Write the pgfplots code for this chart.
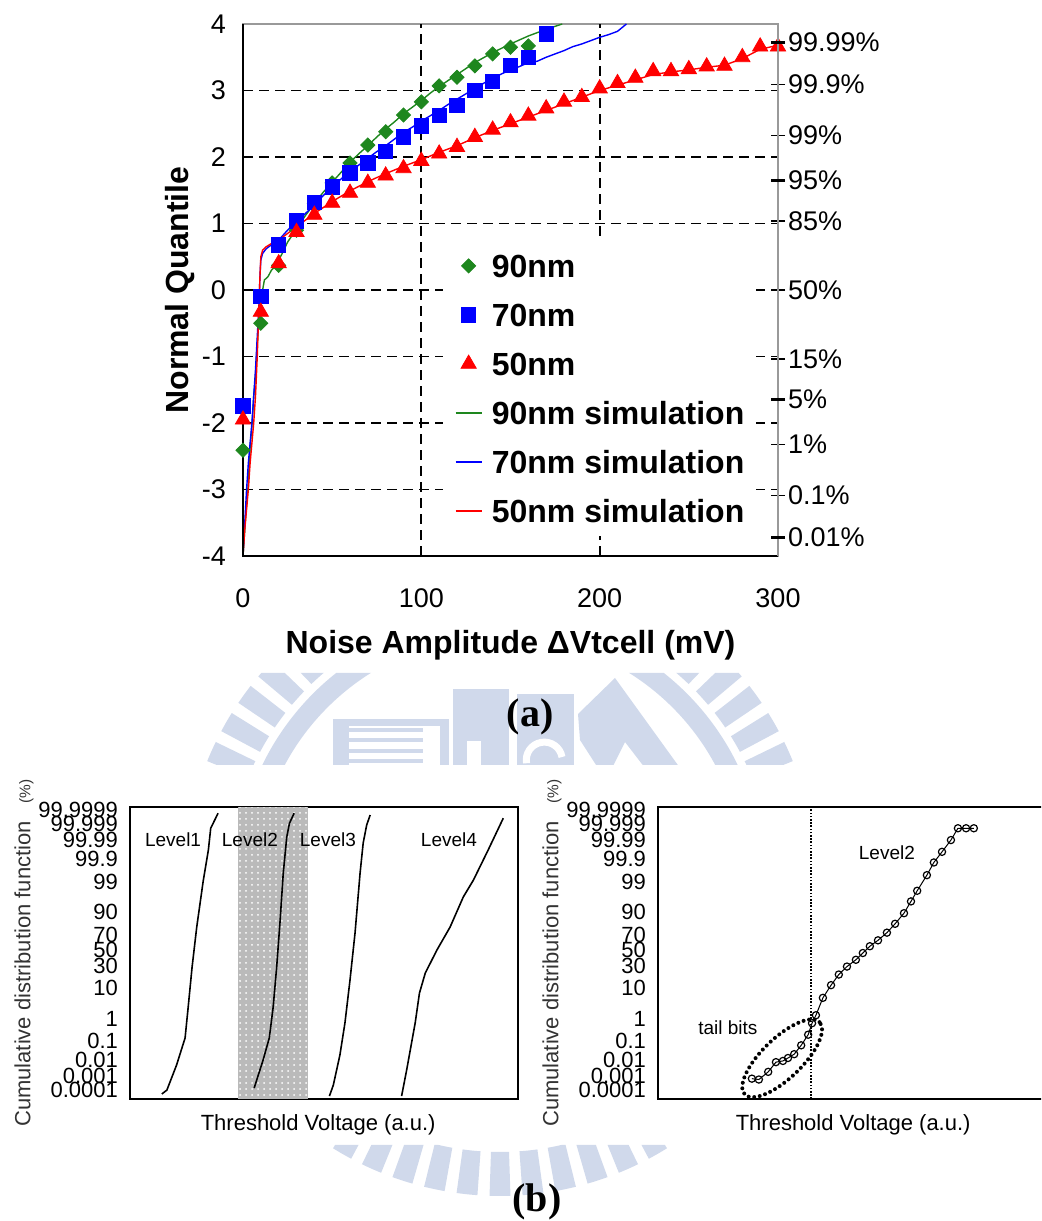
\documentclass[border=0pt]{standalone}
\usepackage{fontspec}
\setmainfont{Liberation Sans}
\newfontfamily\capfont{Liberation Serif}
\usepackage{pgfplots}
\usepackage{pgfplotstable}
\pgfplotsset{compat=1.18}
\usetikzlibrary{patterns}

\definecolor{wm}{RGB}{208,217,235}
\definecolor{qgreen}{RGB}{30,135,30}

% ---- measured noise quantiles (a) ----
\pgfplotstableread{
x z
0 -2.41
10 -0.50
20 0.37
30 0.90
40 1.30
50 1.61
60 1.91
70 2.18
80 2.38
90 2.63
100 2.83
110 3.07
120 3.20
130 3.37
140 3.55
150 3.65
160 3.67
}\nmNinety
\pgfplotstableread{
x z
0 -1.74
10 -0.10
20 0.68
30 1.04
40 1.32
50 1.55
60 1.76
70 1.91
80 2.08
90 2.30
100 2.47
110 2.63
120 2.78
130 3.00
140 3.14
150 3.38
160 3.50
170 3.85
}\nmSeventy
\pgfplotstableread{
x z
0 -1.95
10 -0.33
20 0.40
30 0.87
40 1.13
50 1.31
60 1.46
70 1.61
80 1.72
90 1.83
100 1.94
110 2.05
120 2.15
130 2.30
140 2.41
150 2.52
160 2.62
170 2.73
180 2.83
190 2.90
200 3.03
210 3.11
220 3.19
230 3.29
240 3.29
250 3.32
260 3.36
270 3.37
280 3.50
290 3.66
300 3.66
}\nmFifty
% ---- simulated curves (a) ----
\pgfplotstableread{
x z
0 -4
1.5 -3.4
3 -2.9
4 -2.35
5 -2.05
6 -1.6
7 -1.3
8 -0.8
9 -0.45
10 -0.1
11 0.0
12 0.15
14 0.2
16 0.3
18 0.35
20 0.45
22 0.55
25 0.72
30 0.92
35 1.12
40 1.3
45 1.47
50 1.62
55 1.77
60 1.92
65 2.05
70 2.17
75 2.3
80 2.42
85 2.53
90 2.65
95 2.75
100 2.85
105 2.96
110 3.06
115 3.15
120 3.24
125 3.33
130 3.42
140 3.57
150 3.7
160 3.82
170 3.92
179 4.0
}\simNinety
\pgfplotstableread{
x z
0 -4
1 -3.5
2 -3.0
3 -2.6
4 -2.3
5 -2.0
6 -1.6
7 -1.2
8 -0.7
9 -0.2
9.5 0.2
10 0.45
11 0.55
13 0.62
16 0.68
20 0.75
25 0.9
30 1.02
35 1.15
40 1.28
45 1.42
50 1.55
55 1.67
60 1.78
65 1.88
70 1.98
75 2.08
80 2.17
85 2.27
90 2.37
95 2.45
100 2.54
105 2.62
110 2.7
115 2.79
120 2.87
125 2.95
130 3.03
135 3.11
140 3.18
145 3.25
150 3.31
155 3.36
160 3.42
165 3.44
170 3.5
175 3.55
180 3.6
185 3.66
190 3.7
195 3.75
200 3.8
205 3.84
210 3.89
215 4.0
}\simSeventy
\pgfplotstableread{
x z
0 -4
1 -3.6
2 -3.3
3 -3.0
4 -2.6
5 -2.3
6 -2.0
7 -1.6
8 -1.0
8.5 -0.6
9 -0.2
9.5 0.2
10 0.5
11 0.6
13 0.65
16 0.7
20 0.75
25 0.85
30 0.95
35 1.05
40 1.15
50 1.33
60 1.49
70 1.63
80 1.75
90 1.86
100 1.96
110 2.07
120 2.17
130 2.29
140 2.4
150 2.5
160 2.6
170 2.7
180 2.8
190 2.9
200 3.0
210 3.08
220 3.16
230 3.24
240 3.28
250 3.31
260 3.35
270 3.38
280 3.48
290 3.62
300 3.68
}\simFifty
% ---- threshold-voltage distributions (b), probit scale ----
\pgfplotstableread{
x z
8.2 -4.88
9.5 -4.75
12.0 -3.90
14.2 -2.98
15.0 -1.93
16.0 -0.58
17.2 0.78
18.9 2.37
20.2 3.39
20.8 4.13
22.7 4.64
}\levelOne
\pgfplotstableread{
x z
32.0 -4.68
34.3 -3.73
35.9 -2.98
36.9 -1.93
37.8 -0.58
38.7 1.02
39.5 2.61
40.4 3.83
41.1 4.30
42.3 4.64
}\levelTwo
\pgfplotstableread{
x z
51.4 -4.95
52.4 -4.58
54.1 -3.56
55.4 -2.47
56.7 -1.02
58.0 0.58
59.3 2.61
60.1 3.63
61.0 4.24
61.9 4.58
}\levelThree
\pgfplotstableread{
x z
70.0 -4.95
71.3 -4.07
73.5 -2.47
74.6 -1.46
76.1 -0.78
79.1 0.00
82.5 0.78
85.9 1.80
88.5 2.37
92.3 3.39
96.2 4.47
}\levelFour
\pgfplotstableread{
x z
24.2 -4.36
26.0 -4.39
28.4 -4.13
30.4 -3.80
32.2 -3.76
33.5 -3.66
35.1 -3.53
36.9 -3.23
38.7 -2.87
39.7 -2.48
40.7 -2.21
42.5 -1.62
44.6 -1.19
46.6 -0.83
48.7 -0.56
51.0 -0.33
52.8 -0.10
54.6 0.13
56.7 0.33
59.0 0.59
61.1 0.89
63.4 1.25
65.2 1.65
66.8 2.01
69.3 2.54
71.1 2.97
73.2 3.33
75.5 3.73
77.3 4.13
79.4 4.13
81.4 4.13
}\levelTwoBits

\pgfplotsset{
  probit/.style={
    ytick={-4.753,-4.265,-3.719,-3.090,-2.326,-1.282,-0.524,0,0.524,1.282,2.326,3.090,3.719,4.265,4.753},
    yticklabels={0.0001,0.001,0.01,0.1,1,10,30,50,70,90,99,99.9,99.99,99.999,99.9999},
  },
  cdfpanel/.style={
    anchor=south west, scale only axis, width=194pt, height=146pt,
    xmin=0, xmax=100, ymin=-5.05, ymax=4.85,
    axis line style={black, line width=1pt},
    xtick=\empty, probit, ytick pos=left, major tick length=0pt,
    yticklabel style={font=\fontsize{11}{11}\selectfont, xshift=-2.5pt},
    ylabel={Cumulative distribution function\hspace{9pt}{\fontsize{7.7}{9}\selectfont(\%)}},
    ylabel style={at={(axis description cs:-0.273,0.5)}, anchor=center,
      font=\fontsize{11}{13}\selectfont, text=black!80},
    xlabel={Threshold Voltage (a.u.)},
    xlabel style={anchor=center, font=\fontsize{11}{13}\selectfont},
  },
}

\begin{document}
\begin{tikzpicture}
\path[use as bounding box] (0,0) rectangle (520.5pt,610.5pt);
\clip (0,0) rectangle (520.5pt,610.5pt);

% ---- emblem in the background ----
\begin{scope}
  \clip (0,0) rectangle (520.5pt,38pt) (0,228pt) rectangle (520.5pt,274pt);
  \begin{scope}[shift={(250pt,170.5pt)}]
    \fill[wm, even odd rule] (0,0) circle (132pt) (0,0) circle (122pt);
    \foreach \a in {0,6,...,354} {
      \pgfmathsetmacro\b{\a-1.9}
      \pgfmathsetmacro\c{\a+1.9}
      \fill[wm] (\b:136pt) -- (\b:158pt) arc[start angle=\b, end angle=\c, radius=158pt]
        -- (\c:136pt) arc[start angle=\c, end angle=\b, radius=136pt] -- cycle;
    }
  \end{scope}
  \fill[wm] (166.5pt,247.5pt) rectangle (224.5pt,251pt);
  \fill[wm] (166.5pt,226.5pt) rectangle (174.5pt,251pt);
  \fill[wm] (174.5pt,244.5pt) rectangle (211.5pt,246.5pt);
  \fill[wm] (174.5pt,239.5pt) rectangle (211.5pt,241.5pt);
  \fill[wm] (174.5pt,234pt) rectangle (211.5pt,236pt);
  \fill[wm] (174.5pt,229pt) rectangle (211.5pt,231pt);
  \fill[wm] (220pt,226.5pt) rectangle (224.5pt,251pt);
  \fill[wm] (226.5pt,226.5pt) rectangle (254.5pt,266pt);
  \fill[white] (233.5pt,226.5pt) rectangle (240.5pt,240pt);
  \fill[wm] (258.5pt,226.5pt) rectangle (287pt,263.5pt);
  \draw[white, line width=3.5pt] (281pt,232pt) arc[start angle=10, end angle=190, radius=9pt];
  \fill[wm] (289pt,253.5pt) -- (307.5pt,271.5pt) -- (340pt,226.5pt) -- (322.5pt,226.5pt)
    -- (312.5pt,239.5pt) -- (306pt,226.5pt) -- (299pt,226.5pt) -- (290pt,240.5pt) -- cycle;
\end{scope}

% ---- (a) noise quantile plot ----
\begin{axis}[
  at={(121.5pt,332.5pt)}, anchor=south west,
  scale only axis, width=267.5pt, height=266pt,
  xmin=0, xmax=300, ymin=-4, ymax=4,
  clip=false,
  axis line style={draw=black!40, line width=0.8pt},
  xtick={0,100,200,300}, ytick={-4,-3,...,4},
  xtick pos=bottom, ytick pos=left,
  tick align=inside, major tick length=4pt,
  tick style={black, line width=0.8pt},
  extra x ticks={100,200}, extra x tick labels={},
  extra y ticks={-3,-2,...,3}, extra y tick labels={},
  extra x tick style={grid=major},
  extra y tick style={grid=major},
  major grid style={black, line width=0.9pt, dash pattern=on 5pt off 3pt},
  /pgf/number format/assume math mode=true,
  tick label style={font=\fontsize{13.5}{15}\selectfont},
  xticklabel style={anchor=center, yshift=-21pt},
  yticklabel style={xshift=-5pt},
  xlabel={Noise Amplitude ΔVtcell (mV)},
  ylabel={Normal Quantile},
  label style={font=\bfseries\fontsize{16}{19}\selectfont},
  xlabel style={at={(axis description cs:0.5,-0.167)}, anchor=center},
  ylabel style={at={(axis description cs:-0.118,0.5)}, anchor=center},
  legend style={at={(0.373,0.594)}, anchor=north west, fill=white, draw=none,
    inner xsep=6pt, inner ysep=7pt, row sep=13pt,
    font=\bfseries\fontsize{16}{19}\selectfont,
    nodes={inner sep=0pt, text height=11.5pt, text depth=0pt},
    /tikz/every odd column/.append style={column sep=4.75pt}},
  legend cell align=left,
  legend image code/.code={\draw[mark repeat=2,mark phase=2,#1]
    plot coordinates {(0pt,0pt) (6.5pt,0pt) (13pt,0pt)};},
]
\addplot[qgreen, line width=0.7pt, forget plot] table {\simNinety};
\addplot[blue, line width=0.7pt, forget plot] table {\simSeventy};
\addplot[red, line width=0.7pt, forget plot] table {\simFifty};
\addplot[only marks, mark=square*, mark size=2.5pt,
  mark options={rotate=45, fill=qgreen, draw=qgreen}] table {\nmNinety};
\addlegendentry{90nm}
\addplot[only marks, mark=square*, mark size=3.6pt,
  mark options={fill=blue, draw=blue}] table {\nmSeventy};
\addlegendentry{70nm}
\addplot[only marks, mark=triangle*, mark size=4.4pt,
  mark options={fill=red, draw=red}] table {\nmFifty};
\addlegendentry{50nm}
\addlegendimage{qgreen, line width=0.7pt}
\addlegendentry{90nm simulation}
\addlegendimage{blue, line width=0.7pt}
\addlegendentry{70nm simulation}
\addlegendimage{red, line width=0.7pt}
\addlegendentry{50nm simulation}
\draw[black, line width=0.9pt] (rel axis cs:0,1) -- (rel axis cs:0,0) -- (rel axis cs:1,0);
\end{axis}

% right-hand probability scale
\begin{axis}[
  at={(121.5pt,332.5pt)}, anchor=south west,
  scale only axis, width=267.5pt, height=266pt,
  xmin=0, xmax=300, ymin=-4, ymax=4,
  axis x line=none, axis y line*=right,
  y axis line style={draw=black!40, line width=0.8pt},
  ytick={3.719,3.090,2.326,1.645,1.036,0,-1.036,-1.645,-2.326,-3.090,-3.719},
  yticklabels={99.99\%,99.9\%,99\%,95\%,85\%,50\%,15\%,5\%,1\%,0.1\%,0.01\%},
  tick align=center, major tick length=7pt,
  tick style={black, line width=0.7pt},
  extra y ticks={3.719,1.645,-1.645,-3.719}, extra y tick labels={},
  extra y tick style={tick style={black, line width=1.5pt}},
  yticklabel style={font=\fontsize{13.5}{15}\selectfont, xshift=-2pt},
]
\end{axis}

\node[font=\capfont\bfseries\fontsize{20}{24}\selectfont] at (265pt,252pt) {(a)};

% ---- (b) left: four programmed levels ----
\begin{axis}[cdfpanel, at={(65pt,61pt)},
  xlabel style={at={(axis description cs:0.485,-0.089)}}]
\addplot[draw=none, fill=black!27] coordinates
  {(27.8,-5.05) (45.9,-5.05) (45.9,4.85) (27.8,4.85)} -- cycle;
\addplot[draw=none, pattern=dots, pattern color=white] coordinates
  {(27.8,-5.05) (45.9,-5.05) (45.9,4.85) (27.8,4.85)} -- cycle;
\addplot[black, line width=0.8pt] table {\levelOne};
\addplot[black, line width=0.8pt] table {\levelTwo};
\addplot[black, line width=0.8pt] table {\levelThree};
\addplot[black, line width=0.8pt] table {\levelFour};
\node[font=\fontsize{9.5}{11}\selectfont] at (axis cs:11.1,3.73) {Level1};
\node[font=\fontsize{9.5}{11}\selectfont] at (axis cs:30.9,3.73) {Level2};
\node[font=\fontsize{9.5}{11}\selectfont] at (axis cs:51.0,3.73) {Level3};
\node[font=\fontsize{9.5}{11}\selectfont] at (axis cs:82.2,3.73) {Level4};
\end{axis}

% ---- (b) right: Level2 with tail bits ----
\begin{axis}[cdfpanel, at={(329pt,61pt)},
  xlabel style={at={(axis description cs:0.503,-0.089)}}]
\addplot[black, line width=1.3pt, dash pattern=on 0.8pt off 0.8pt] coordinates
  {(39.4,-5.05) (39.4,4.85)};
\addplot[black, line width=0.5pt, mark=o, mark size=1.8pt,
  mark options={line width=0.6pt}] table {\levelTwoBits};
\draw[black, line width=2pt, line cap=round, dash pattern=on 0pt off 2.8pt,
  rotate around={44:(axis cs:32.0,-3.67)}]
  (axis cs:32.0,-3.67) ellipse [x radius=26pt, y radius=10pt];
\node[font=\fontsize{9.5}{11}\selectfont] at (axis cs:18.0,-2.62) {tail bits};
\node[font=\fontsize{9.5}{11}\selectfont] at (axis cs:59.0,3.29) {Level2};
\end{axis}

\node[font=\capfont\bfseries\fontsize{20}{24}\selectfont] at (268.5pt,9.5pt) {(b)};
\end{tikzpicture}
\end{document}
